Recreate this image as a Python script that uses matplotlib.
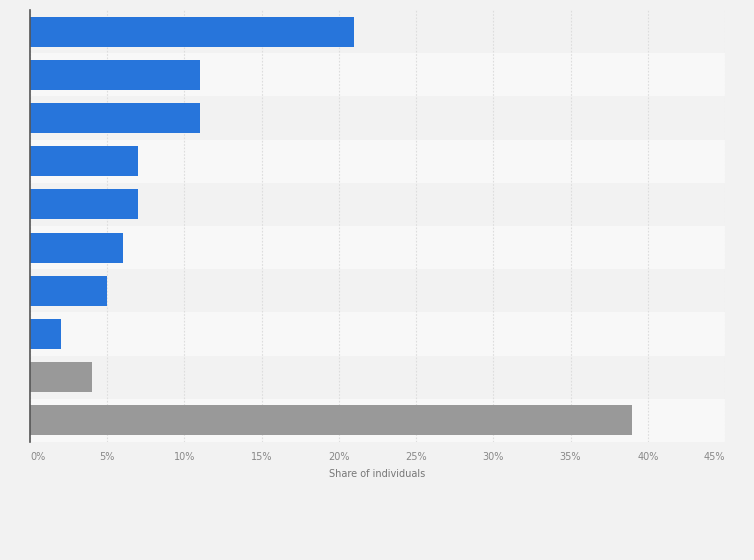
import numpy as np
import matplotlib.pyplot as plt

# values (top to bottom)
shares = [21, 11, 11, 7, 7, 6, 5, 2, 4, 39]
colors = ["#2775db"] * 8 + ["#999999"] * 2
ticks = [0, 5, 10, 15, 20, 25, 30, 35, 40, 45]
tick_labels = [f"{t}%" for t in ticks]

fig = plt.figure(figsize=(7.54, 5.60), dpi=100)
fig.patch.set_facecolor("#f2f2f2")
ax = fig.add_axes([30 / 754, 118 / 560, 695 / 754, 432 / 560])
ax.set_facecolor("#f2f2f2")

n = len(shares)
y = np.arange(n)

# alternating row bands
for i in range(n):
    ax.axhspan(i - 0.5, i + 0.5, color="#f2f2f2" if i % 2 == 0 else "#f8f8f8", zorder=0, lw=0)

ax.barh(y, shares, height=0.69, color=colors, zorder=3)

ax.set_xlim(0, 45)
ax.set_ylim(n - 0.5, -0.5)
ax.set_xticks(ticks)
ax.set_xticklabels(tick_labels, fontsize=7, color="#888888")
labs = ax.get_xticklabels()
labs[0].set_horizontalalignment("left")
labs[-1].set_horizontalalignment("right")
ax.set_yticks([])
ax.tick_params(axis="x", length=0, pad=7)
ax.grid(axis="x", linestyle=(0, (1.5, 1.5)), color="#dddddd", linewidth=0.8, zorder=1)

for s in ["top", "right", "bottom"]:
    ax.spines[s].set_visible(False)
ax.spines["left"].set_color("#555555")
ax.spines["left"].set_linewidth(1.2)
ax.spines["left"].set_zorder(4)

ax.set_xlabel("Share of individuals", fontsize=7, color="#777777", labelpad=5)

fig.savefig("out.png", dpi=100, facecolor=fig.get_facecolor())
